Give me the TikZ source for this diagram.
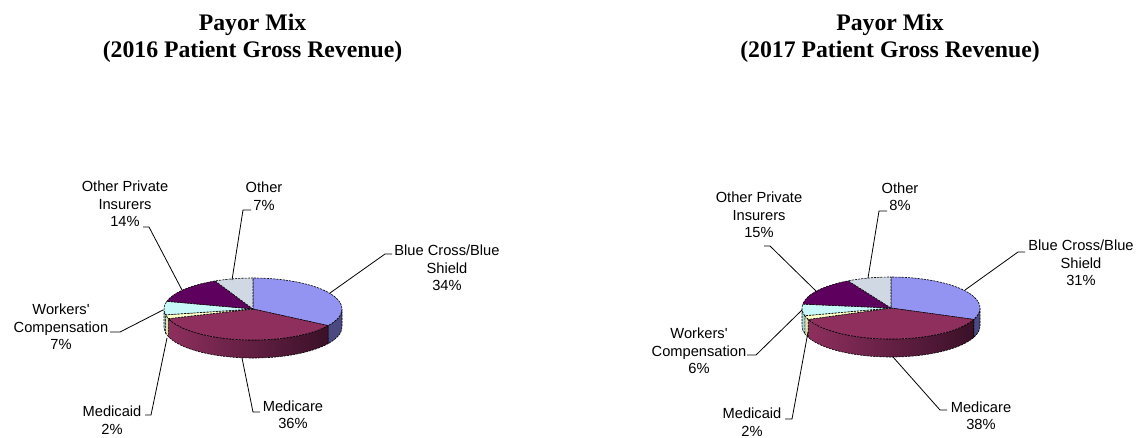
\documentclass[tikz,border=0pt]{standalone}
\usepackage{fontspec}
\setmainfont{Liberation Serif}
\newfontfamily\labelfont{Liberation Sans}
\usetikzlibrary{positioning}
\definecolor{BlueCross}{HTML}{9393F2}
\definecolor{BlueCrossSide}{HTML}{4A4A80}
\definecolor{Medicare}{HTML}{8E2F5E}
\definecolor{MedicareDark}{HTML}{3A1028}
\definecolor{Medicaid}{HTML}{FFFFC8}
\definecolor{MedicaidSide}{HTML}{E2E2AC}
\definecolor{Workers}{HTML}{C8F8F8}
\definecolor{WorkersSide}{HTML}{A8D6D8}
\definecolor{PrivIns}{HTML}{5E005E}
\definecolor{OtherPay}{HTML}{D0D8E4}
\tikzset{
 charttitle/.style={font=\fontsize{17.8}{20.25}\selectfont\bfseries,align=center,inner sep=0pt},
 lbl/.style={font=\labelfont\fontsize{11}{13.1}\selectfont,align=center,inner sep=0pt},
 leader/.style={draw=black,line width=0.6pt},
 rim/.style={draw=black,line width=0.45pt,dash pattern=on 1.6pt off 0.8pt}
}
% top face of one slice: start angle, end angle, colour
\newcommand{\pietop}[3]{\filldraw[fill=#3,rim] (0,0) -- (#1:89 and 31) arc[start angle=#1,end angle=#2,x radius=89,y radius=31] -- cycle;}
% front wall of one slice: start angle, end angle, fill options
\newcommand{\pieside}[3]{\path[#3,rim] (#1:89 and 31) arc[start angle=#1,end angle=#2,x radius=89,y radius=31] -- ++(0,-18) arc[start angle=#2,end angle=#1,x radius=89,y radius=31] -- cycle;}

\begin{document}
\begin{tikzpicture}[x=0.75pt,y=-0.75pt]
\useasboundingbox (0,0) rectangle (1138,437);

% 2016
\node[charttitle] (t16) at (252.5,38) {Payor Mix\\(2016 Patient Gross Revenue)};
\begin{scope}[shift={(253,309)},y=0.75pt]
\pieside{0}{-32.4}{fill=BlueCrossSide}
\pieside{-32.4}{-162}{left color=Medicare,right color=MedicareDark}
\pieside{-162}{-169.2}{fill=MedicaidSide}
\pieside{-169.2}{-180}{fill=WorkersSide}
\pietop{90}{-32.4}{BlueCross}
\pietop{-32.4}{-162}{Medicare}
\pietop{-162}{-169.2}{Medicaid}
\pietop{-169.2}{-194.4}{Workers}
\pietop{-194.4}{-244.8}{PrivIns}
\pietop{-244.8}{-270}{OtherPay}
\end{scope}
\node[lbl] (bc16) at (447,268) {Blue Cross/Blue\\Shield\\34\%};
\node[lbl] (oth16) at (264,196) {Other\\7\%};
\node[lbl] (opi16) at (125,204) {Other Private\\Insurers\\14\%};
\node[lbl] (wc16) at (61,327) {Workers'\\Compensation\\7\%};
\node[lbl] (mcd16) at (112,420) {Medicaid\\2\%};
\node[lbl] (mcr16) at (293,415) {Medicare\\36\%};
\coordinate (bc16p) at (330,293);
\coordinate (oth16p) at (232,280);
\coordinate (opi16p) at (182,290);
\coordinate (wc16p) at (163,310);
\coordinate (mcd16p) at (167,338);
\coordinate (mcr16p) at (242,358);
\draw[leader] (bc16p) -- (385,254) -- ++(7,0);
\draw[leader] (oth16p) -- (243,210) -- ++(8,0);
\draw[leader] (opi16p) -- (149,227) -- ++(-6,0);
\draw[leader] (wc16p) -- (120,332) -- ++(-10,0);
\draw[leader] (mcd16p) -- (151,415) -- ++(-6,0);
\draw[leader] (mcr16p) -- (253,412) -- ++(7,0);

% 2017
\node[charttitle] (t17) at (890,38) {Payor Mix\\(2017 Patient Gross Revenue)};
\begin{scope}[shift={(891,308)},y=0.75pt]
\pieside{0}{-21.6}{fill=BlueCrossSide}
\pieside{-21.6}{-158.4}{left color=Medicare,right color=MedicareDark}
\pieside{-158.4}{-165.6}{fill=MedicaidSide}
\pieside{-165.6}{-180}{fill=WorkersSide}
\pietop{90}{-21.6}{BlueCross}
\pietop{-21.6}{-158.4}{Medicare}
\pietop{-158.4}{-165.6}{Medicaid}
\pietop{-165.6}{-187.2}{Workers}
\pietop{-187.2}{-241.2}{PrivIns}
\pietop{-241.2}{-270}{OtherPay}
\end{scope}
\node[lbl] (bc17) at (1081,263) {Blue Cross/Blue\\Shield\\31\%};
\node[lbl] (oth17) at (900,197) {Other\\8\%};
\node[lbl] (opi17) at (759,215) {Other Private\\Insurers\\15\%};
\node[lbl] (wc17) at (699,351) {Workers'\\Compensation\\6\%};
\node[lbl] (mcd17) at (752,422) {Medicaid\\2\%};
\node[lbl] (mcr17) at (981,416) {Medicare\\38\%};
\coordinate (bc17p) at (965,290);
\coordinate (oth17p) at (868,278);
\coordinate (opi17p) at (817,292);
\coordinate (wc17p) at (802,310);
\coordinate (mcd17p) at (808,332);
\coordinate (mcr17p) at (893,357);
\draw[leader] (bc17p) -- (1018,252) -- ++(7,0);
\draw[leader] (oth17p) -- (879,211) -- ++(8,0);
\draw[leader] (opi17p) -- (770,246) -- ++(-6,0);
\draw[leader] (wc17p) -- (756,355) -- ++(-9,0);
\draw[leader] (mcd17p) -- (792,419) -- ++(-7,0);
\draw[leader] (mcr17p) -- (940,410) -- ++(7,0);
\end{tikzpicture}
\end{document}
